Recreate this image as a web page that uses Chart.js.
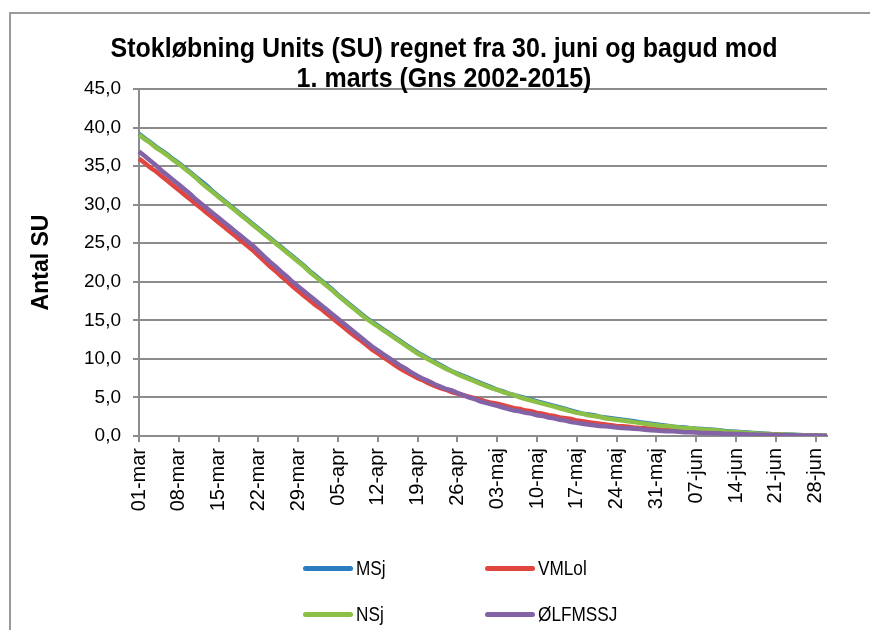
<!DOCTYPE html>
<html>
<head>
<meta charset="utf-8">
<script src="https://cdn.jsdelivr.net/npm/chart.js@4/dist/chart.umd.min.js"></script>
<style>
  html, body { margin:0; padding:0; background:#fff; }
  #wrap { position:relative; width:870px; height:630px; overflow:hidden; }
  #frame { position:absolute; left:9px; top:12px; width:900px; height:700px;
           border-left:2px solid #9a9a9a; border-top:2px solid #9a9a9a; }
  #chart { position:absolute; left:0; top:0; }
  .leg { position:absolute; display:flex; align-items:center; height:24px;
         font-family:"Liberation Sans",Arial,sans-serif; font-size:20px; color:#000; white-space:nowrap; }
  .leg i { display:inline-block; width:50px; height:5px; border-radius:3px; margin-right:3px; }
  .leg span { display:inline-block; transform:scaleX(0.86); transform-origin:left center; }
</style>
</head>
<body>
<div id="wrap">
  <div id="frame"></div>
  <canvas id="chart" width="870" height="630"></canvas>
  <div id="legend"></div>
</div>
<script>
// Gennemsnitlige SU pr. dag, 01-mar .. 30-jun (122 dage)
const TITLE = ["Stokløbning Units (SU) regnet fra 30. juni og bagud mod", "1. marts (Gns 2002-2015)"];
const Y_TITLE = "Antal SU";
const MONTHS = ["mar", "apr", "maj", "jun"];
const MONTH_DAYS = [31, 30, 31, 30];
const Y_MIN = 0, Y_MAX = 45, Y_STEP = 5;

const SERIES = ["MSj", "VMLol", "NSj", "ØLFMSSJ"];
const COLORS = ["#2b7bc0", "#e0453f", "#8cbf45", "#8462a6"];

const MSj = [
  39.2, 38.6, 38.1, 37.5, 37.0, 36.5, 35.9, 35.4,
  34.8, 34.2, 33.6, 33.0, 32.4, 31.7, 31.1,
  30.5, 29.9, 29.3, 28.7, 28.1, 27.5, 26.9,
  26.3, 25.7, 25.1, 24.5, 23.9, 23.3, 22.7,
  22.1, 21.4, 20.8, 20.2, 19.6, 19.0, 18.3,
  17.7, 17.1, 16.5, 15.9, 15.3, 14.8, 14.3,
  13.8, 13.3, 12.8, 12.3, 11.8, 11.3, 10.8,
  10.4, 10.0, 9.6, 9.2, 8.8, 8.4, 8.1,
  7.8, 7.5, 7.2, 6.9, 6.6, 6.3, 6.0,
  5.8, 5.5, 5.3, 5.1, 4.9, 4.7, 4.5,
  4.3, 4.1, 3.9, 3.7, 3.5, 3.3, 3.1,
  2.9, 2.8, 2.7, 2.5, 2.4, 2.3, 2.2,
  2.1, 2.0, 1.9, 1.8, 1.7, 1.6, 1.5,
  1.4, 1.3, 1.2, 1.15, 1.1, 1.0, 0.95,
  0.9, 0.85, 0.8, 0.75, 0.65, 0.6, 0.55,
  0.5, 0.45, 0.4, 0.35, 0.3, 0.25, 0.22,
  0.2, 0.18, 0.15, 0.12, 0.1, 0.1, 0.1,
  0.05, 0.02
];
const VMLol = [
  36.0, 35.4, 34.8, 34.3, 33.7, 33.1, 32.5, 31.9,
  31.3, 30.7, 30.1, 29.5, 28.9, 28.3, 27.7,
  27.1, 26.5, 25.9, 25.3, 24.7, 24.1, 23.4,
  22.7, 22.0, 21.4, 20.7, 20.1, 19.4, 18.8,
  18.2, 17.6, 17.0, 16.5, 15.9, 15.3, 14.7,
  14.1, 13.5, 12.9, 12.4, 11.8, 11.2, 10.7,
  10.2, 9.7, 9.2, 8.7, 8.3, 7.9, 7.5,
  7.2, 6.8, 6.5, 6.2, 6.0, 5.7, 5.5,
  5.3, 5.1, 4.9, 4.7, 4.5, 4.3, 4.2,
  4.0, 3.8, 3.6, 3.5, 3.3, 3.2, 3.0,
  2.9, 2.7, 2.6, 2.4, 2.3, 2.2, 2.0,
  1.9, 1.8, 1.7, 1.6, 1.5, 1.4, 1.3,
  1.25, 1.2, 1.1, 1.05, 1.0, 0.95, 0.9,
  0.85, 0.8, 0.75, 0.7, 0.7, 0.65, 0.6,
  0.55, 0.5, 0.5, 0.45, 0.4, 0.4, 0.35,
  0.3, 0.3, 0.25, 0.2, 0.2, 0.18, 0.15,
  0.12, 0.1, 0.1, 0.08, 0.06, 0.05, 0.05,
  0.02, 0.0
];
const NSj = [
  39.1, 38.5, 38.0, 37.4, 36.9, 36.4, 35.8, 35.3,
  34.7, 34.1, 33.5, 32.8, 32.2, 31.6, 31.0,
  30.4, 29.8, 29.2, 28.6, 28.0, 27.4, 26.8,
  26.2, 25.6, 25.0, 24.4, 23.8, 23.2, 22.6,
  22.0, 21.3, 20.7, 20.1, 19.5, 18.9, 18.2,
  17.6, 17.0, 16.4, 15.8, 15.2, 14.7, 14.2,
  13.7, 13.2, 12.7, 12.2, 11.7, 11.2, 10.7,
  10.3, 9.9, 9.5, 9.1, 8.7, 8.4, 8.0,
  7.7, 7.4, 7.1, 6.8, 6.5, 6.2, 6.0,
  5.7, 5.5, 5.3, 5.0, 4.8, 4.6, 4.4,
  4.2, 4.0, 3.8, 3.6, 3.4, 3.2, 3.0,
  2.9, 2.7, 2.6, 2.5, 2.3, 2.2, 2.1,
  2.0, 1.9, 1.8, 1.7, 1.6, 1.5, 1.4,
  1.3, 1.3, 1.2, 1.1, 1.0, 1.0, 0.9,
  0.85, 0.8, 0.75, 0.7, 0.6, 0.55, 0.5,
  0.45, 0.4, 0.35, 0.3, 0.3, 0.25, 0.2,
  0.2, 0.15, 0.15, 0.1, 0.1, 0.1, 0.1,
  0.05, 0.0
];
const OLFMSSJ = [
  36.9, 36.3, 35.7, 35.1, 34.4, 33.8, 33.2, 32.6,
  32.0, 31.4, 30.7, 30.1, 29.5, 28.9, 28.3,
  27.7, 27.1, 26.5, 25.9, 25.3, 24.7, 24.0,
  23.3, 22.6, 22.0, 21.3, 20.7, 20.0, 19.4,
  18.8, 18.2, 17.6, 17.0, 16.4, 15.8, 15.2,
  14.6, 14.0, 13.4, 12.8, 12.2, 11.6, 11.1,
  10.6, 10.1, 9.6, 9.1, 8.7, 8.2, 7.8,
  7.4, 7.1, 6.7, 6.4, 6.1, 5.9, 5.6,
  5.3, 5.0, 4.8, 4.5, 4.3, 4.1, 3.9,
  3.7, 3.5, 3.3, 3.2, 3.0, 2.9, 2.7,
  2.6, 2.4, 2.3, 2.1, 2.0, 1.8, 1.7,
  1.6, 1.5, 1.4, 1.3, 1.25, 1.2, 1.1,
  1.05, 1.0, 0.95, 0.9, 0.8, 0.75, 0.7,
  0.65, 0.6, 0.6, 0.55, 0.5, 0.5, 0.45,
  0.4, 0.4, 0.35, 0.35, 0.3, 0.3, 0.25,
  0.25, 0.2, 0.2, 0.15, 0.15, 0.15, 0.12,
  0.1, 0.1, 0.1, 0.08, 0.06, 0.05, 0.05,
  0.02, 0.0
];

// dag-etiketter "01-mar" .. "30-jun"
const labels = [];
MONTHS.forEach((m, mi) => {
  for (let d = 1; d <= MONTH_DAYS[mi]; d++) labels.push(String(d).padStart(2, "0") + "-" + m);
});

const GRID = "#8c8c8c";
const FONT = "'Liberation Sans', Arial, sans-serif";
const values = [MSj, VMLol, NSj, OLFMSSJ];
// Excel tegner senere serier ovenpå -> lavere order = tegnes sidst
const datasets = SERIES.map((name, i) => ({
  label: name,
  data: values[i],
  borderColor: COLORS[i],
  backgroundColor: COLORS[i],
  borderWidth: 4.5,
  pointRadius: 0,
  tension: 0,
  order: SERIES.length - i
}));

// titlen er smal (Arial Narrow-agtig) -> tegnes sammentrykt vandret
const narrowTitle = {
  id: "narrowTitle",
  afterDraw(chart) {
    const ctx = chart.ctx;
    ctx.save();
    ctx.font = "bold 28px " + FONT;
    ctx.fillStyle = "#000";
    ctx.textAlign = "center";
    ctx.textBaseline = "alphabetic";
    const sx = 667 / ctx.measureText(TITLE[0]).width;
    const ys = [57, 87];
    TITLE.forEach((line, i) => {
      ctx.save();
      ctx.translate(444, ys[i]);
      ctx.scale(sx, 1);
      ctx.fillText(line, 0, 0);
      ctx.restore();
    });
    ctx.restore();
  }
};

new Chart(document.getElementById("chart"), {
  type: "line",
  data: { labels, datasets },
  plugins: [narrowTitle],
  options: {
    responsive: false,
    animation: false,
    layout: { padding: { left: 18, right: 0, top: 89, bottom: 0 } },
    plugins: {
      legend: { display: false },
      tooltip: { enabled: false },
      title: { display: false }
    },
    scales: {
      x: {
        type: "category",
        offset: false,
        border: { display: true, color: GRID, width: 2 },
        grid: {
          drawOnChartArea: false, drawTicks: true, tickLength: 6, lineWidth: 2,
          color: c => (c.index % 7 === 0 ? GRID : "rgba(0,0,0,0)")
        },
        ticks: {
          autoSkip: false, maxRotation: 90, minRotation: 90, padding: 6, color: "#000",
          font: { family: FONT, size: 20 },
          callback: (v, i) => (i % 7 === 0 ? labels[i] : "")
        },
        afterFit: s => { s.height = 194; }
      },
      y: {
        min: Y_MIN, max: Y_MAX,
        border: { display: true, color: GRID, width: 2 },
        grid: { color: GRID, lineWidth: 2, tickLength: 6 },
        ticks: {
          stepSize: Y_STEP, padding: 12, color: "#000",
          font: { family: FONT, size: 19 },
          callback: v => v.toFixed(1).replace(".", ",")
        },
        title: {
          display: true, text: Y_TITLE, color: "#000",
          font: { family: FONT, size: 23, weight: "bold" },
          padding: { top: 10, bottom: 0 }
        },
        afterFit: s => { s.width = 121; }
      },
      y2: {
        position: "right", display: true, min: Y_MIN, max: Y_MAX,
        border: { display: false }, grid: { display: false }, ticks: { display: false },
        afterFit: s => { s.width = 43; }
      }
    }
  }
});

// forklaring i to kolonner som i originalen
const LEG_POS = [[303, 556], [485, 556], [303, 602], [485, 602]];
const legend = document.getElementById("legend");
SERIES.forEach((name, i) => {
  const el = document.createElement("div");
  el.className = "leg";
  el.style.left = LEG_POS[i][0] + "px";
  el.style.top = LEG_POS[i][1] + "px";
  el.innerHTML = '<i style="background:' + COLORS[i] + '"></i>';
  const txt = document.createElement("span");
  txt.textContent = name;
  el.appendChild(txt);
  legend.appendChild(el);
});
</script>
</body>
</html>
